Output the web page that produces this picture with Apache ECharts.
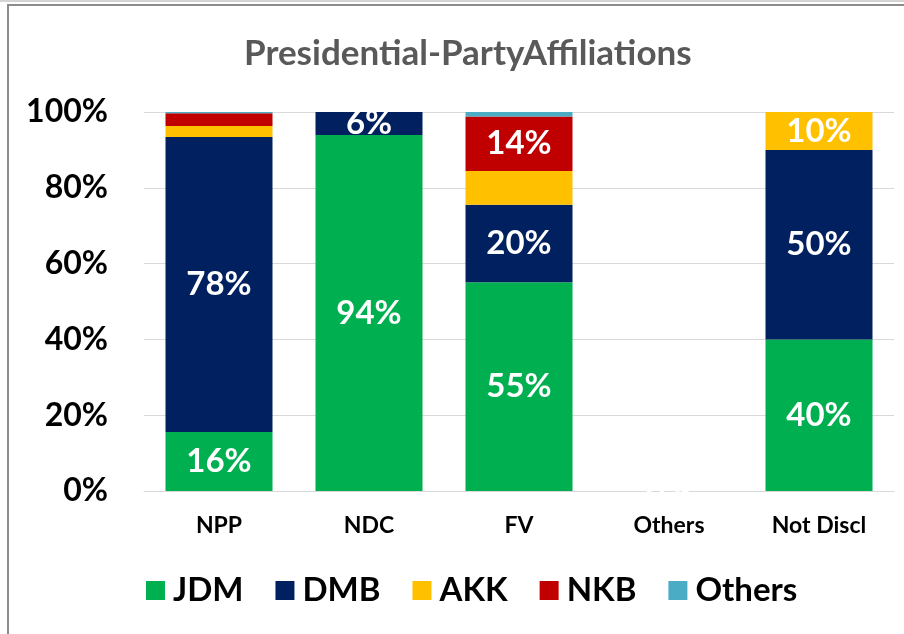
<!DOCTYPE html>
<html>
<head>
<meta charset="utf-8">
<script src="https://cdn.jsdelivr.net/npm/echarts@6/dist/echarts.min.js"></script>
<style>
html,body{margin:0;padding:0;background:#fff;}
#chart{width:904px;height:634px;}
</style>
</head>
<body>
<div id="chart"></div>
<script>
const categories = ['NPP', 'NDC', 'FV', 'Others', 'Not Discl'];
const seriesNames = ['JDM', 'DMB', 'AKK', 'NKB', 'Others'];
const jdm    = [15.6, 93.9, 55.1, 0, 40];
const dmb    = [77.8, 6.1, 20.4, 0, 50];
const akk    = [2.9, 0, 8.9, 0, 10];
const nkb    = [3.4, 0, 14.4, 0, 0];
const others = [0.3, 0, 1.2, 0, 0];
const yTicks = [0, 20, 40, 60, 80, 100];
// which category indices carry a visible data label, per series
const labelShown = {
  JDM: [0, 1, 2, 3, 4],
  DMB: [0, 1, 2, 4],
  AKK: [4],
  NKB: [2],
  Others: []
};

const seriesData = [jdm, dmb, akk, nkb, others];
const colors = ['#00B050', '#002060', '#FFC000', '#C00000', '#4BACC6'];
const FONT = 'Lato';

const chart = echarts.init(document.getElementById('chart'), null, {renderer: 'canvas'});
const option = {
  animation: false,
  backgroundColor: '#fff',
  title: {
    text: 'Presidential-PartyAffiliations',
    left: 239,
    top: 31,
    textStyle: {fontFamily: FONT, fontSize: 35, fontWeight: 'bold', color: '#595959'}
  },
  legend: {
    bottom: 22,
    left: 141,
    itemWidth: 19,
    itemHeight: 19,
    itemGap: 32,
    icon: 'rect',
    data: seriesNames,
    textStyle: {fontFamily: FONT, fontSize: 33, fontWeight: 'bold', color: '#000', padding: [0, 0, 0, 3]}
  },
  grid: {left: 144, right: 10, top: 112, bottom: 143},
  xAxis: {
    type: 'category',
    data: categories,
    axisLine: {lineStyle: {color: '#D9D9D9', width: 1}},
    axisTick: {show: false},
    axisLabel: {fontFamily: FONT, fontSize: 23, fontWeight: 'bold', color: '#000', margin: 23}
  },
  yAxis: {
    type: 'value',
    min: yTicks[0],
    max: yTicks[yTicks.length - 1],
    interval: yTicks[1] - yTicks[0],
    axisLine: {show: false},
    axisTick: {show: false},
    splitLine: {lineStyle: {color: '#D9D9D9', width: 1}},
    axisLabel: {formatter: '{value}%', fontFamily: FONT, fontSize: 32, fontWeight: 'bold', color: '#000', margin: 36}
  },
  graphic: [
    {type: 'line', shape: {x1: 0, y1: 1, x2: 904, y2: 1}, style: {stroke: '#D4D4D4', lineWidth: 2}, silent: true},
    {type: 'line', shape: {x1: 7, y1: 5, x2: 904, y2: 5}, style: {stroke: '#8C8C8C', lineWidth: 2}, silent: true},
    {type: 'line', shape: {x1: 8, y1: 5, x2: 8, y2: 634}, style: {stroke: '#8C8C8C', lineWidth: 2}, silent: true}
  ],
  series: seriesNames.map((name, si) => ({
    name: name,
    type: 'bar',
    stack: 'total',
    barWidth: 107,
    itemStyle: {color: colors[si]},
    data: seriesData[si].map((v, ci) => ({
      value: v,
      label: {show: labelShown[name].indexOf(ci) >= 0}
    })),
    label: {
      position: 'inside',
      formatter: p => Math.round(p.value) + '%',
      fontFamily: FONT,
      fontSize: 33,
      fontWeight: 'bold',
      color: '#fff'
    }
  }))
};
chart.setOption(option);
</script>
</body>
</html>
